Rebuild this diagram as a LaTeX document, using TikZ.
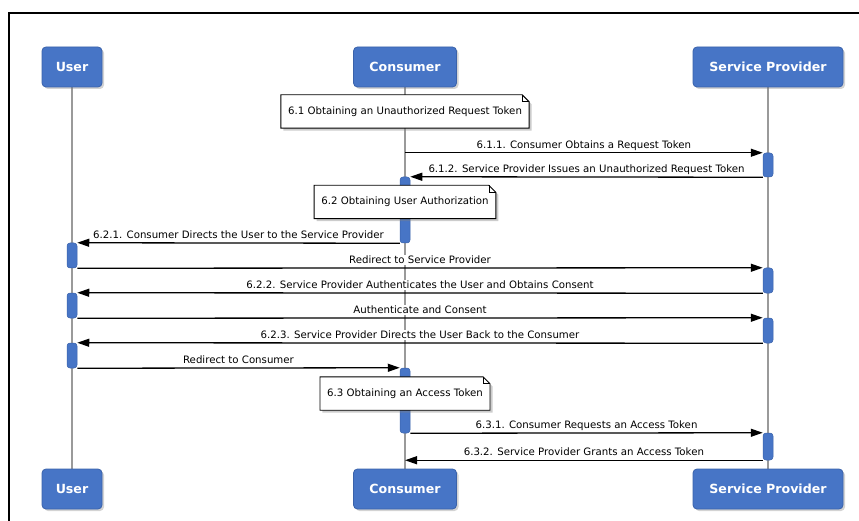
\documentclass[tikz,border=0pt]{standalone}
\usepackage{fontspec}
\setmainfont{DejaVu Sans}
\usetikzlibrary{arrows.meta,shadows}
\definecolor{partblue}{HTML}{4775C6}
\definecolor{partedge}{HTML}{3A62AA}
\definecolor{lifegrey}{HTML}{9A9A9A}
\pgfdeclarelayer{back}
\pgfdeclarelayer{mid}
\pgfsetlayers{back,mid,main}

\begin{document}
\begin{tikzpicture}[x=1pt,y=-1pt,
  participant/.style={rectangle, rounded corners=4pt, fill=partblue, draw=partedge,
    line width=0.8pt, text=white, font=\bfseries\fontsize{12.6}{14}\selectfont,
    minimum height=40pt, inner xsep=0pt,
    drop shadow={shadow xshift=2pt, shadow yshift=-2pt, opacity=0.35}},
  lifeline/.style={draw=lifegrey, line width=1.4pt},
  actbar/.style={rectangle, rounded corners=3pt, fill=partblue, draw=partedge,
    line width=0.5pt, minimum width=10pt, inner sep=0pt},
  msg/.style={draw=black, line width=1.3pt, -{Triangle[length=12pt,width=8pt]}},
  lbl/.style={anchor=base, yshift=4.5pt, inner xsep=1pt, inner ysep=1pt, fill=white,
    font=\fontsize{10.2}{12}\selectfont},
  notetext/.style={inner xsep=7pt, inner ysep=0pt, minimum height=33pt,
    font=\fontsize{10.2}{12}\selectfont},
  notebg/.style={fill=white, draw=black, line width=0.9pt,
    drop shadow={shadow xshift=2.5pt, shadow yshift=-2.5pt, opacity=0.4}},
]
\useasboundingbox (0,0) rectangle (859,521);

% frame
\draw[line width=1.8pt] (9,521) -- (9,13) -- (859,13);

% participants, top and bottom
\node[participant, minimum width=60pt]  (U)  at (72,67)  {User};
\node[participant, minimum width=103pt] (C)  at (405,67) {Consumer};
\node[participant, minimum width=150pt] (S)  at (768,67) {Service Provider};
\node[participant, minimum width=60pt]  (U2) at (72,489)  {User};
\node[participant, minimum width=103pt] (C2) at (405,489) {Consumer};
\node[participant, minimum width=150pt] (S2) at (768,489) {Service Provider};

\begin{pgfonlayer}{back}
  % lifelines
  \draw[lifeline] (U) -- (U2);
  \draw[lifeline] (C) -- (C2);
  \draw[lifeline] (S) -- (S2);

  % activation bars
  \node[actbar, minimum height=24pt] (s1) at (S |- 0,165)   {};
  \node[actbar, minimum height=66pt] (c1) at (C |- 0,210)   {};
  \node[actbar, minimum height=25pt] (u1) at (U |- 0,255.5) {};
  \node[actbar, minimum height=25pt] (s2) at (S |- 0,280.5) {};
  \node[actbar, minimum height=25pt] (u2) at (U |- 0,305.5) {};
  \node[actbar, minimum height=25pt] (s3) at (S |- 0,330.5) {};
  \node[actbar, minimum height=25pt] (u3) at (U |- 0,355.5) {};
  \node[actbar, minimum height=65pt] (c2) at (C |- 0,400.5) {};
  \node[actbar, minimum height=27pt] (s4) at (S |- 0,446.5) {};

  % messages
  \draw[msg] (C |- s1.north) -- node[lbl]{6.1.1. Consumer Obtains a Request Token} (s1.north west);
  \draw[msg] (s1.south west) -- node[lbl]{6.1.2. Service Provider Issues an Unauthorized Request Token} (c1.north east);
  \draw[msg] (c1.south west) -- node[lbl]{6.2.1. Consumer Directs the User to the Service Provider} (u1.north east);
  \draw[msg] (u1.south east) -- node[lbl]{Redirect to Service Provider} (s2.north west);
  \draw[msg] (s2.south west) -- node[lbl]{6.2.2. Service Provider Authenticates the User and Obtains Consent} (u2.north east);
  \draw[msg] (u2.south east) -- node[lbl]{Authenticate and Consent} (s3.north west);
  \draw[msg] (s3.south west) -- node[lbl]{6.2.3. Service Provider Directs the User Back to the Consumer} (u3.north east);
  \draw[msg] (u3.south east) -- node[lbl]{Redirect to Consumer} (c2.north west);
  \draw[msg] (c2.south east) -- node[lbl]{6.3.1. Consumer Requests an Access Token} (s4.north west);
  \draw[msg] (s4.south west) -- node[lbl]{6.3.2. Service Provider Grants an Access Token} (C |- s4.south);
\end{pgfonlayer}

% notes
\node[notetext] (n1) at (C |- 0,111.5) {6.1 Obtaining an Unauthorized Request Token};
\node[notetext] (n2) at (C |- 0,202)   {6.2 Obtaining User Authorization};
\node[notetext] (n3) at (C |- 0,393.5) {6.3 Obtaining an Access Token};

\begin{pgfonlayer}{mid}
  \foreach \n in {n1,n2,n3} {
    \draw[notebg] (\n.south west) -- (\n.north west) -- ([xshift=-7pt]\n.north east)
      -- ([yshift=-7pt]\n.north east) -- (\n.south east) -- cycle;
    \draw[line width=0.7pt] ([xshift=-7pt]\n.north east) -- ([xshift=-7pt,yshift=-7pt]\n.north east)
      -- ([yshift=-7pt]\n.north east);
  }
\end{pgfonlayer}
\end{tikzpicture}
\end{document}
